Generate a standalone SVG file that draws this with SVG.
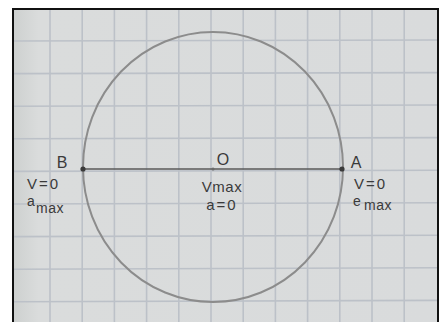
<svg xmlns="http://www.w3.org/2000/svg" width="441" height="322" viewBox="0 0 441 322">
<defs>
<style>
.grid line{stroke:#bcc1c8;stroke-width:1.6}
.lbl{font-family:"Liberation Sans",Arial,sans-serif;fill:#3a3a3a;font-size:16px}
.val{font-family:"Liberation Sans",Arial,sans-serif;fill:#3a3a3a;font-size:15px}
.sub{font-family:"Liberation Sans",Arial,sans-serif;fill:#3a3a3a;font-size:14px}
</style>
<linearGradient id="paper" x1="0" y1="0" x2="1" y2="0">
<stop offset="0" stop-color="#cdd0cf"/>
<stop offset="0.06" stop-color="#dadcdc"/>
<stop offset="1" stop-color="#d9dbdc"/>
</linearGradient>
</defs>
<rect x="0" y="0" width="441" height="322" fill="#ffffff"/>
<rect x="13" y="9" width="425" height="320" fill="url(#paper)"/>
<g class="grid">
<line x1="50" y1="9" x2="50" y2="322"/>
<line x1="82.2" y1="9" x2="82.2" y2="322"/>
<line x1="114.4" y1="9" x2="114.4" y2="322"/>
<line x1="146.6" y1="9" x2="146.6" y2="322"/>
<line x1="178.8" y1="9" x2="178.8" y2="322"/>
<line x1="211" y1="9" x2="211" y2="322"/>
<line x1="243.2" y1="9" x2="243.2" y2="322"/>
<line x1="275.4" y1="9" x2="275.4" y2="322"/>
<line x1="307.6" y1="9" x2="307.6" y2="322"/>
<line x1="339.8" y1="9" x2="339.8" y2="322"/>
<line x1="372" y1="9" x2="372" y2="322"/>
<line x1="404.2" y1="9" x2="404.2" y2="322"/>
<line x1="13" y1="41" x2="438" y2="40"/>
<line x1="13" y1="73.6" x2="438" y2="72.6"/>
<line x1="13" y1="106.2" x2="438" y2="105"/>
<line x1="13" y1="138.8" x2="438" y2="137.6"/>
<line x1="13" y1="171.4" x2="438" y2="170.2"/>
<line x1="13" y1="204" x2="438" y2="202.8"/>
<line x1="13" y1="236.6" x2="438" y2="235.2"/>
<line x1="13" y1="269.2" x2="438" y2="267.8"/>
<line x1="13" y1="301.8" x2="438" y2="300.4"/>
</g>
<rect x="13" y="9" width="425" height="320" fill="none" stroke="#111111" stroke-width="2"/>
<g id="circle">
<ellipse cx="213" cy="167" rx="130" ry="135" fill="none" stroke="#8c8c8c" stroke-width="2"/>
</g>
<g id="connectors">
<line x1="83" y1="169" x2="343" y2="169" stroke="#5a5a5a" stroke-width="1.6"/>
</g>
<g id="node-B">
<circle cx="83" cy="169" r="2.6" fill="#3a3a3a"/>
<text class="lbl" x="62" y="168" text-anchor="middle">B</text>
<text class="val" x="27" y="189" letter-spacing="2">V=0</text>
<text class="sub" x="27" y="206">a</text>
<text class="sub" x="36" y="213" letter-spacing="0.5">max</text>
</g>
<g id="node-O">
<circle cx="213" cy="169" r="1.6" fill="#6a6a6a"/>
<text class="lbl" x="223" y="165" text-anchor="middle">O</text>
<text class="val" x="222" y="192" text-anchor="middle" letter-spacing="0.5">Vmax</text>
<text class="val" x="222" y="210" text-anchor="middle" letter-spacing="2">a=0</text>
</g>
<g id="node-A">
<circle cx="342" cy="169" r="2.6" fill="#3a3a3a"/>
<text class="lbl" x="356" y="168" text-anchor="middle">A</text>
<text class="val" x="354" y="189" letter-spacing="2">V=0</text>
<text class="sub" x="353" y="206">e</text>
<text class="sub" x="364" y="210" letter-spacing="0.5">max</text>
</g>
</svg>
